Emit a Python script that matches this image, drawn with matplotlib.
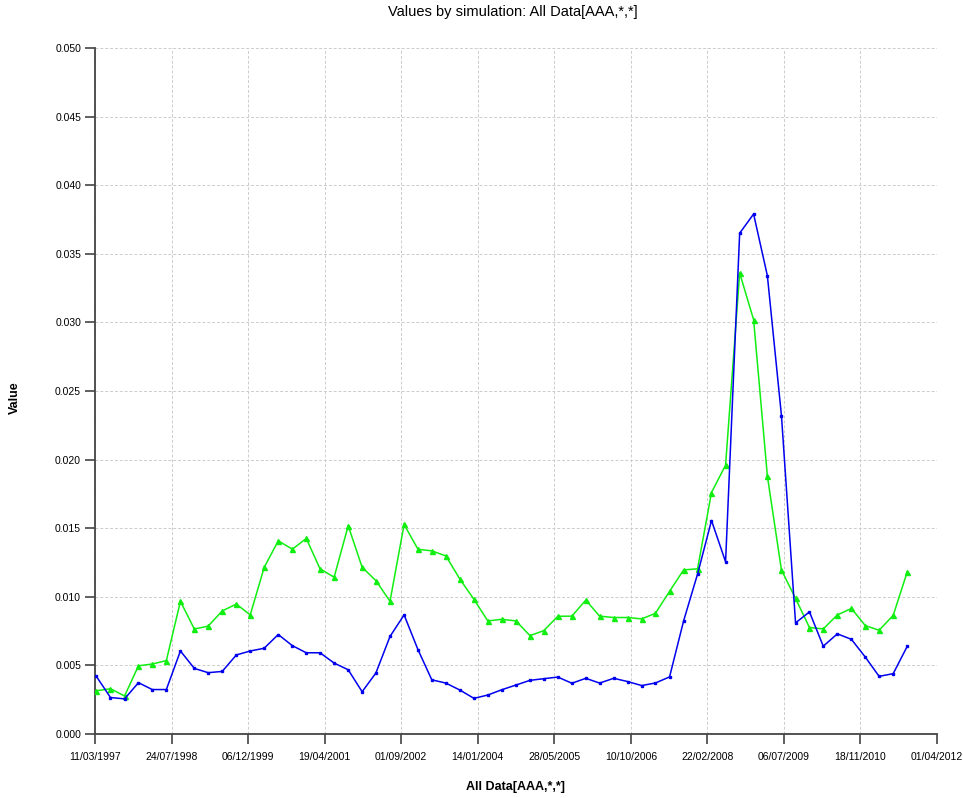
import datetime
import numpy as np
import pandas as pd
import matplotlib
matplotlib.use('Agg')
import matplotlib.pyplot as plt
import matplotlib.dates as mdates

plt.rcParams['font.family'] = ['Liberation Sans', 'DejaVu Sans']

# quarterly observation dates
dates = pd.date_range('1997-03-20', periods=59, freq=pd.DateOffset(months=3))

blue_vals = [0.0042, 0.00266, 0.00256, 0.00374, 0.00324, 0.00324, 0.00605, 0.00478,
             0.00447, 0.00456, 0.00576, 0.00605, 0.00625, 0.00725, 0.00644, 0.00592,
             0.00592, 0.00517, 0.00468, 0.00308, 0.00445, 0.00711, 0.00868, 0.00614,
             0.00395, 0.00371, 0.0032, 0.0026, 0.00284, 0.00323, 0.00357, 0.00391,
             0.00403, 0.00415, 0.0037, 0.00406, 0.00371, 0.00406, 0.00382, 0.00353,
             0.00372, 0.00416, 0.00825, 0.01166, 0.01556, 0.01255, 0.0365, 0.0379,
             0.0334, 0.0232, 0.0081, 0.0089, 0.0064, 0.0073, 0.0069, 0.0056,
             0.0042, 0.0044, 0.0064]

green_vals = [0.00315, 0.0033, 0.00277, 0.00497, 0.0051, 0.00535, 0.00967, 0.00765,
              0.00786, 0.00897, 0.00947, 0.00868, 0.01214, 0.01408, 0.01347, 0.01425,
              0.01204, 0.01143, 0.01518, 0.01215, 0.01118, 0.00967, 0.01527, 0.01346,
              0.01335, 0.01298, 0.01128, 0.00982, 0.00824, 0.00836, 0.00824, 0.00717,
              0.00753, 0.00858, 0.00859, 0.00976, 0.00859, 0.00849, 0.00849, 0.00839,
              0.0088, 0.0104, 0.01196, 0.01204, 0.0176, 0.0196, 0.0336, 0.0302,
              0.0188, 0.01195, 0.00988, 0.00776, 0.00766, 0.00868, 0.00915, 0.0079,
              0.00756, 0.00865, 0.01183]

x_start = datetime.datetime(1997, 3, 11)
x_end = datetime.datetime(2012, 4, 1)
x_ticks = [x_start + datetime.timedelta(days=500 * k) for k in range(12)]
y_ticks = np.arange(0, 0.0501, 0.005)

W, H = 963, 798
fig = plt.figure(figsize=(W / 100, H / 100), dpi=100)
ax = fig.add_axes([95 / W, 1 - 734 / H, (937 - 95) / W, (734 - 48) / H])

ax.plot(dates, green_vals, color='#11ee11', lw=1.1, marker='^', ms=3.6, zorder=3)
ax.plot(dates, blue_vals, color='#0000ee', lw=1.1, marker='s', ms=2.0, zorder=4)

ax.set_xlim(x_start, x_end)
ax.set_ylim(0, 0.05)
ax.set_xticks(x_ticks)
ax.xaxis.set_major_formatter(mdates.DateFormatter('%d/%m/%Y'))
ax.set_yticks(y_ticks)
ax.yaxis.set_major_formatter(matplotlib.ticker.FormatStrFormatter('%.3f'))

ax.grid(True, color='#cccccc', ls=(0, (3, 2)), lw=0.7)
for side in ['top', 'right']:
    ax.spines[side].set_visible(False)
for side in ['left', 'bottom']:
    ax.spines[side].set_color('#444444')
    ax.spines[side].set_linewidth(1.3)
ax.tick_params(axis='y', direction='out', length=7, width=1.2, color='#444444',
               labelsize=7.5, pad=3)
ax.tick_params(axis='x', direction='out', length=7, width=1.2, color='#444444',
               labelsize=7.5, pad=6)

# titles placed in figure pixels
fig.text(513 / W, 1 - 12 / H, 'Values by simulation: All Data[AAA,*,*]',
         fontsize=10.5, ha='center', va='center')
fig.text(15 / W, 1 - 398 / H, 'Value', fontsize=9, fontweight='bold',
         rotation=90, ha='center', va='center')
fig.text(516 / W, 1 - 787 / H, 'All Data[AAA,*,*]', fontsize=9,
         fontweight='bold', ha='center', va='center')

fig.savefig('out.png', dpi=100)
